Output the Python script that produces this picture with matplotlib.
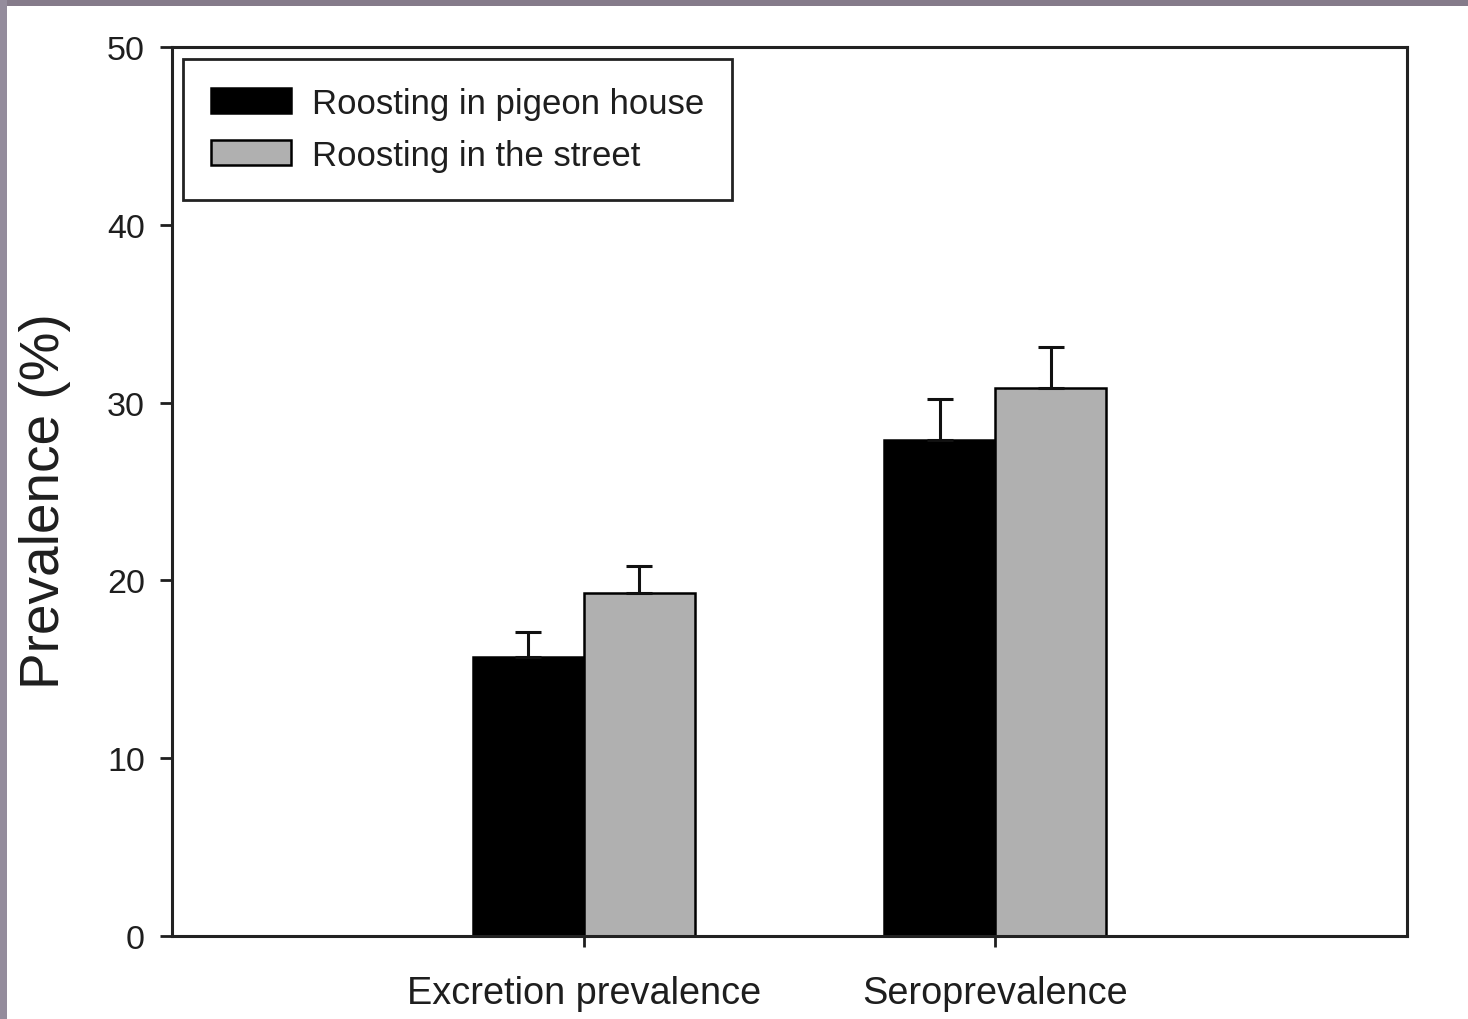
import numpy as np
import matplotlib
matplotlib.use("Agg")
import matplotlib.pyplot as plt
from matplotlib.patches import Rectangle

plt.rcParams['font.family'] = ['Liberation Sans', 'DejaVu Sans']
plt.rcParams['text.color'] = "#1e1e1e"
plt.rcParams['xtick.color'] = "#1e1e1e"
plt.rcParams['ytick.color'] = "#1e1e1e"
plt.rcParams['axes.labelcolor'] = "#1e1e1e"

# Donnees
categories = ["Excretion prevalence", "Seroprevalence"]
series = ["Roosting in pigeon house", "Roosting in the street"]
pigeon_house = [15.7, 27.9]
pigeon_house_err = [1.4, 2.3]
street = [19.3, 30.8]
street_err = [1.5, 2.3]

fig = plt.figure(figsize=(14.68, 10.2), dpi=100)
fig.patch.set_facecolor("white")
# bordure grise en haut et a gauche
fig.patches.append(Rectangle((0, 1 - 7 / 1020), 1, 7 / 1020, transform=fig.transFigure,
                             facecolor="#857b8a", edgecolor="none", zorder=5))
fig.patches.append(Rectangle((0, 0), 7 / 1468, 1, transform=fig.transFigure,
                             facecolor="#948c9c", edgecolor="none", zorder=5))

ax = fig.add_axes([172 / 1468, 1 - 937 / 1020, 1235 / 1468, 889 / 1020])
ax.set_facecolor("white")

x = np.arange(1, len(categories) + 1)
w = 0.27
err_kw = dict(elinewidth=2.2, capsize=9.5, capthick=2.2, ecolor="#111111")
ax.bar(x - w / 2, pigeon_house, w, color="black", edgecolor="black", linewidth=1.8,
       yerr=[np.zeros(2), pigeon_house_err], error_kw=err_kw, label=series[0], zorder=2)
ax.bar(x + w / 2, street, w, color="#b0b0b0", edgecolor="black", linewidth=1.8,
       yerr=[np.zeros(2), street_err], error_kw=err_kw, label=series[1], zorder=2)

ax.set_xlim(0, 3)
ax.set_ylim(0, 50)
ax.set_xticks(x)
ax.set_xticklabels(categories, fontsize=27.3)
ax.set_yticks([0, 10, 20, 30, 40, 50])
ax.tick_params(axis='y', labelsize=24.5, length=8.5, width=2, direction='out', pad=11)
ax.tick_params(axis='x', length=8, width=2, direction='out', pad=20)
for s in ax.spines.values():
    s.set_linewidth(2.2)
    s.set_color("#222222")
ax.set_ylabel("Prevalence (%)", fontsize=39.5)
ax.yaxis.set_label_coords(-0.082, 0.49)

leg = ax.legend(loc="upper left", bbox_to_anchor=(0.009, 0.9865), borderaxespad=0,
                fancybox=False, edgecolor="#222222", fontsize=25, handlelength=2.3,
                handleheight=0.75, borderpad=0.8, labelspacing=0.55, handletextpad=0.6)
leg.get_frame().set_linewidth(2)
leg.get_frame().set_alpha(1)

fig.savefig("out.png", dpi=100, facecolor=fig.get_facecolor())
